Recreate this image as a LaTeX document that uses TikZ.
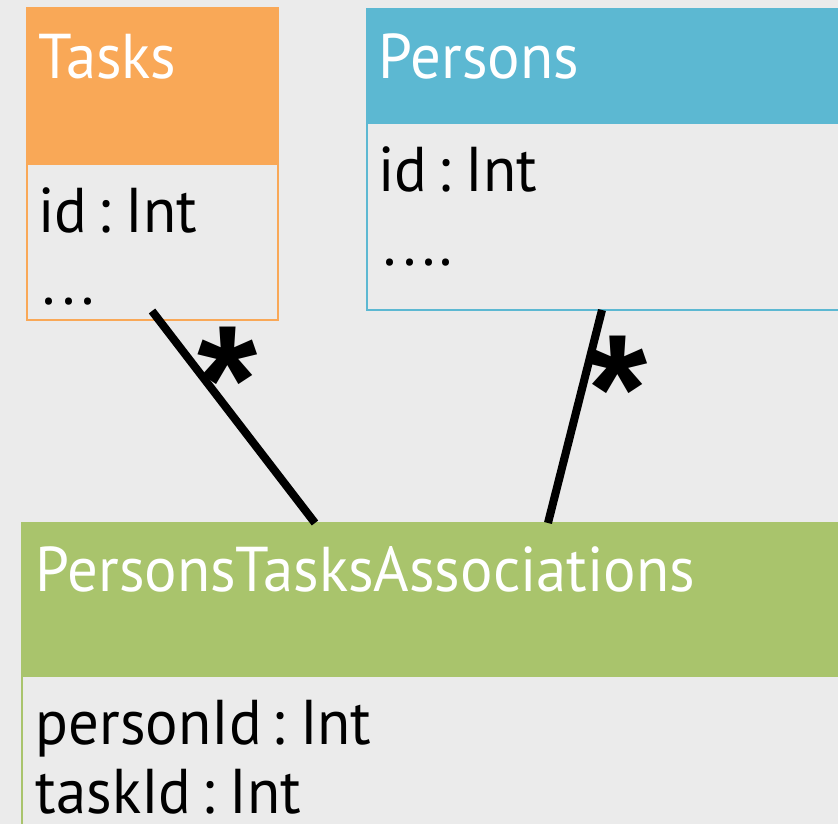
\documentclass[tikz,border=0pt]{standalone}
\usepackage{fontspec}
\setmainfont[FakeStretch=0.96, WordSpace=0.6]{PT Sans}
\newfontfamily\starfont{Liberation Sans}
\usetikzlibrary{positioning}

\definecolor{taskorange}{RGB}{249,168,87}
\definecolor{personblue}{RGB}{92,184,210}
\definecolor{assocgreen}{RGB}{169,196,108}
\definecolor{slidegray}{RGB}{235,235,235}

\newcommand{\spaceddots}{.\kern0.1em.\kern0.1em.}

\tikzset{
  title/.style={anchor=base west, inner sep=0pt, text=white, font=\fontsize{18}{18}\selectfont},
  field/.style={anchor=base west, inner sep=0pt, text=black, font=\fontsize{18}{18}\selectfont},
  mult/.style={anchor=base, inner sep=0pt, font=\starfont\bfseries\fontsize{44}{44}\selectfont},
  link/.style={line width=2.3pt}
}

\begin{document}
\begin{tikzpicture}[x=0.01cm, y=-0.01cm]
\fill[slidegray] (0,0) rectangle (838,824);
\useasboundingbox (0,0) rectangle (838,824);

% Tasks
\def\xa{27};
\def\xb{278};
\fill[taskorange] (\xa,8) rectangle (\xb,165);
\draw[taskorange, line width=0.7pt] (\xa,8) rectangle (\xb,320);
\node[title] (tasks) at (38,78) {Tasks};
\node[field] (taskid) at (38,232) {id : Int};
\node[field] (taskdots) at (42,305) {\spaceddots};

% Persons
\def\xc{367};
\def\xd{850};
\fill[personblue] (\xc,9) rectangle (\xd,124);
\draw[personblue, line width=0.8pt] (\xc,9) rectangle (\xd,310);
\node[title] (persons) at (378,78) {Persons};
\node[field] (personid) at (378,192) {id : Int};
\node[field] (persondots) at (383,266) {\spaceddots.};

% PersonsTasksAssociations
\def\xe{22};
\fill[assocgreen] (\xe,523) rectangle (\xd,677);
\draw[assocgreen, line width=0.8pt] (\xe,523) rectangle (\xd,840);
\node[title] (assoc) at (35,592) {PersonsTasksAssociations};
\node[field] (assocperson) at (35,745) {personId : Int};
\node[field] (assoctask) at (35,814) {taskId : Int};

\coordinate (t1) at (152,311);
\coordinate (a1) at (315,523);
\coordinate (p1) at (602,310);
\coordinate (a2) at (548,523);
\draw[link] (t1) -- node[mult, pos=.23, xshift=0.38cm, yshift=-0.74cm] {*} (a1);
\draw[link] (p1) -- node[mult, pos=.28, xshift=0.31cm, yshift=-0.73cm] {*} (a2);
\end{tikzpicture}
\end{document}
